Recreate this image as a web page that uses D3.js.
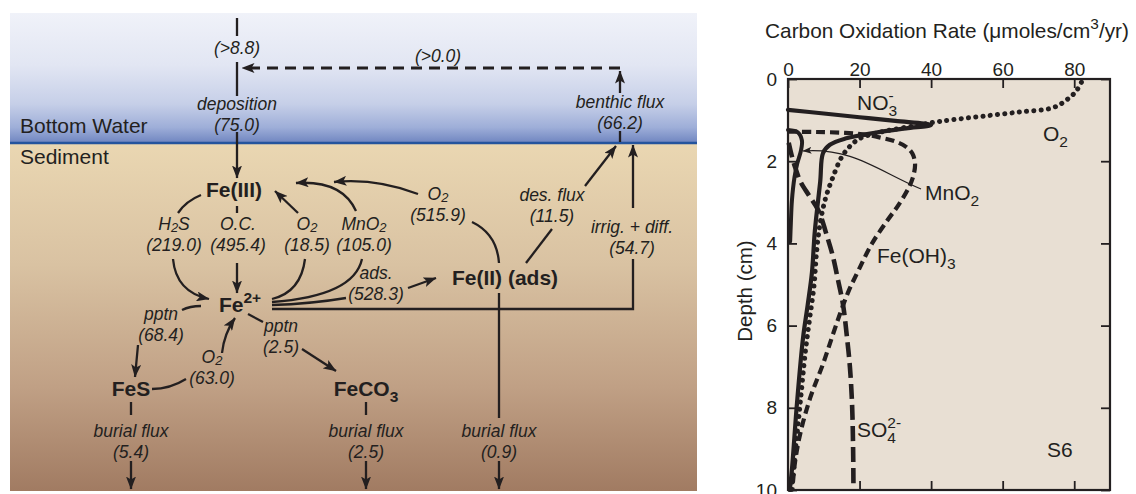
<!DOCTYPE html>
<html><head><meta charset="utf-8">
<script src="https://cdn.jsdelivr.net/npm/d3@7"></script>
<style>
body{margin:0;background:#fff}
svg{display:block}
text{font-family:"Liberation Sans",Arial,Helvetica,sans-serif;fill:#231f20}
</style>
</head><body>
<svg id="fig" width="1136" height="494"></svg>
<script>
// ---------------- iron cycle budget (fluxes) ----------------
const fluxLabels = ["deposition","benthic flux","H2S","O.C.","O2","MnO2","O2","des. flux",
                    "irrig. + diff.","ads.","pptn","pptn","O2","burial flux","burial flux","burial flux"];
const fluxValues = [75.0,66.2,219.0,495.4,18.5,105.0,515.9,11.5,54.7,528.3,68.4,2.5,63.0,5.4,2.5,0.9];
const waterBounds = [8.8,0.0];               // lower bounds in bottom water, written (>x)
const species = ["Fe(III)","Fe2+","Fe(II) (ads)","FeS","FeCO3"];
const layers = ["Bottom Water","Sediment"];

// ---------------- carbon oxidation rate profiles ([rate, depth]) ----------------
const rateNO3 = [[0,0.75],[10,0.84],[20,0.93],[30,1.02],[40,1.12],[33,1.2],[25,1.3],[16,1.45],[11.7,1.6],
                 [9.8,1.8],[9,2.5],[7.5,3.7],[6.7,4.7],[5.5,5.5],[4.2,6.3],[2.5,7.9],[1.1,9.5],[0.5,10]];
const rateO2  = [[82,0.08],[80.5,0.3],[78,0.5],[74,0.7],[65,0.8],[55,0.9],[46,0.99],[41,1.05],[36,1.13],
                 [30,1.22],[24,1.33],[20,1.45],[17.5,1.62],[15,1.9],[12.5,2.4],[10.5,2.9],[9,3.5],[8,4.2],
                 [7.3,5],[6.1,5.8],[4.9,6.6],[3.4,7.9],[1.9,9.2],[1.0,10]];
const rateMnO2 = [[0,1.24],[2.8,1.3],[3.9,1.5],[3.6,1.75],[2.6,2.05],[1.8,2.4],[1.1,2.95],[0.8,3.5],[0.6,3.95]];
const rateFeOH3 = [[0,1.28],[8,1.29],[16,1.31],[22,1.36],[26,1.43],[30,1.52],[33,1.65],[34.8,1.82],[35.5,2.05],
                   [35.2,2.3],[34,2.6],[31,3.05],[27.7,3.45],[23.5,4.0],[20,4.6],[17,5.15],[15,5.6],[13,6.1],
                   [9.8,6.93],[6.2,7.76],[3.5,8.6],[2,9.3],[1.2,10]];
const rateSO4 = [[0.2,1.55],[1,1.85],[2,2.15],[3.5,2.5],[6,2.85],[8.5,3.2],[11,3.85],[12.5,4.3],[14,4.9],
                 [15.4,5.5],[16.5,6.3],[17.3,7.0],[17.9,7.9],[18.2,9.0],[18.3,10]];
const rateTicks = [0,20,40,60,80];
const depthTicks = [0,2,4,6,8,10];
const stationName = "S6";

// ---------------- helpers ----------------
const svg = d3.select("#fig");
const defs = svg.append("defs");
const ink = "#231f20";

// chemical formula -> text runs (digits after an element become subscripts, "n+" a superscript)
function chem(s){
  const parts = [];
  const re = /(\d+[+-])|(\d+)|([^\d]+)/g;
  let m;
  while((m = re.exec(s))){
    if(m[1]) parts.push([m[1],"sup"]);
    else if(m[2]) parts.push([m[2],"sub"]);
    else parts.push([m[3],null]);
  }
  return parts;
}
function rich(g, x, y, parts, size, o = {}){
  const t = g.append("text").attr("x",x).attr("y",y).attr("font-size",size)
    .attr("text-anchor",o.anchor || "middle");
  if(o.weight) t.attr("font-weight",o.weight);
  if(o.italic) t.attr("font-style","italic");
  const subShift = o.sub != null ? o.sub : 0.22;
  let off = 0;
  parts.forEach(([s,k]) => {
    const target = k === "sub" ? subShift*size : k === "sup" ? -0.42*size : 0;
    const ts = t.append("tspan").text(s).attr("dy",target - off);
    if(k) ts.attr("font-size",size*0.74);
    off = target;
  });
  return t;
}

// arrowheads
defs.append("marker").attr("id","ah").attr("viewBox","0 0 13 10").attr("refX",12.5).attr("refY",5)
  .attr("markerWidth",13).attr("markerHeight",10).attr("markerUnits","userSpaceOnUse").attr("orient","auto")
  .append("path").attr("d","M0,0 L13,5 L0,10 L3,5 Z").attr("fill",ink);
defs.append("marker").attr("id","ahs").attr("viewBox","0 0 9 7").attr("refX",8.5).attr("refY",3.5)
  .attr("markerWidth",9).attr("markerHeight",7).attr("markerUnits","userSpaceOnUse").attr("orient","auto")
  .append("path").attr("d","M0,0 L9,3.5 L0,7 L2,3.5 Z").attr("fill",ink);

// ================= LEFT: iron cycle =================
const panel = {x0:10, x1:697, top:13, iface:143, bottom:491};
const gWater = defs.append("linearGradient").attr("id","water").attr("x1",0).attr("y1",0).attr("x2",0).attr("y2",1);
[[0,"#f0f2f9"],[0.4,"#e2e6f3"],[0.7,"#c6cfe8"],[0.88,"#9eaed8"],[1,"#6f85c0"]]
  .forEach(([o,c]) => gWater.append("stop").attr("offset",o).attr("stop-color",c));
const gSed = defs.append("linearGradient").attr("id","sed").attr("x1",0).attr("y1",0).attr("x2",0).attr("y2",1);
[[0,"#ead7b2"],[0.35,"#d9c2a2"],[0.7,"#c0a085"],[1,"#a17b62"]]
  .forEach(([o,c]) => gSed.append("stop").attr("offset",o).attr("stop-color",c));

const left = svg.append("g");
left.append("rect").attr("x",panel.x0).attr("y",panel.top).attr("width",panel.x1-panel.x0)
  .attr("height",panel.iface-panel.top).attr("fill","url(#water)");
left.append("rect").attr("x",panel.x0).attr("y",panel.iface).attr("width",panel.x1-panel.x0)
  .attr("height",panel.bottom-panel.iface).attr("fill","url(#sed)");
left.append("line").attr("x1",panel.x0).attr("x2",panel.x1).attr("y1",panel.iface).attr("y2",panel.iface)
  .attr("stroke","#24549d").attr("stroke-width",2.5);

// layer names
const layerPos = [[20,133],[20,164]];
layers.forEach((s,i) => left.append("text").attr("x",layerPos[i][0]).attr("y",layerPos[i][1])
  .attr("font-size",21).text(s));

// connectors: straight polylines or quadratic curves [start, control, end]
const links = [
  {p:[[237,18],[237,36]]},
  {p:[[237,62],[237,96]]},
  {p:[[620,93],[620,71]], arrow:true},
  {p:[[620,68],[242,68]], arrow:true, dash:true},
  {p:[[620,131],[620,142]]},
  {p:[[237,132],[237,178]], arrow:true},
  {q:[[201,195],[186,201],[178,213]]},
  {p:[[237,206],[237,213]]},
  {q:[[173,259],[176,292],[209,299]], arrow:true},
  {p:[[237,263],[237,293]], arrow:true},
  {p:[[298,213],[275,191]], arrow:true},
  {q:[[356,211],[342,180],[296,183]], arrow:true},
  {q:[[418,194],[376,178],[334,182]], arrow:true},
  {q:[[305,259],[301,292],[272,299]]},
  {q:[[362,259],[354,296],[272,302]]},
  {q:[[272,305],[310,304],[346,298]]},
  {p:[[408,288],[436,278]], arrow:true},
  {p:[[272,309],[633,309],[633,259]]},
  {p:[[633,208],[633,145]], arrow:true},
  {p:[[526,263],[552,229]]},
  {p:[[585,186],[616,146]], arrow:true},
  {q:[[499,263],[497,234],[472,222]]},
  {p:[[499,293],[499,418]]},
  {q:[[201,306],[190,306],[182,310]]},
  {p:[[138,345],[135,377]], arrow:true},
  {q:[[152,389],[170,389],[186,379]]},
  {q:[[222,353],[224,334],[235,318]], arrow:true},
  {p:[[248,314],[263,322]]},
  {p:[[302,349],[336,371]], arrow:true},
  {p:[[131,402],[131,415]]},
  {p:[[131,461],[131,489]], arrow:true},
  {p:[[366,402],[366,415]]},
  {p:[[366,461],[366,489]], arrow:true},
  {p:[[499,461],[499,489]], arrow:true}
];
links.forEach(l => {
  const path = d3.path();
  if(l.q){
    path.moveTo(...l.q[0]); path.quadraticCurveTo(...l.q[1], ...l.q[2]);
  } else {
    path.moveTo(...l.p[0]); l.p.slice(1).forEach(pt => path.lineTo(...pt));
  }
  const e = left.append("path").attr("d",path.toString()).attr("fill","none")
    .attr("stroke",ink).attr("stroke-width", l.dash ? 2.8 : 2.3);
  if(l.dash) e.attr("stroke-dasharray","11 7");
  if(l.arrow) e.attr("marker-end","url(#ah)");
});

// bounds in the bottom water
const boundPos = [[237,54],[438,62]];
waterBounds.forEach((v,i) => left.append("text").attr("x",boundPos[i][0]).attr("y",boundPos[i][1])
  .attr("font-size",17.5).attr("font-style","italic").attr("text-anchor","middle")
  .text(`(>${v.toFixed(1)})`));

// process names with flux values beneath
const fluxPos = [[237,110],[620,108],[174,230],[238,230],[307,230],[364,230],[438,200],[552,201],
                 [632,233],[376,279],[161,320],[281,332],[212,363],[131,437],[366,437],[499,437]];
fluxLabels.forEach((s,i) => {
  const [x,y] = fluxPos[i];
  rich(left, x, y, chem(s), 17.5, {italic:true, sub:0.14});
  left.append("text").attr("x",x).attr("y",y + 20.5).attr("font-size",17.5)
    .attr("font-style","italic").attr("text-anchor","middle").text(`(${fluxValues[i].toFixed(1)})`);
});

// iron pools
const speciesPos = [[234,197],[240,312],[505,285],[131,396],[366,396]];
species.forEach((s,i) => rich(left, speciesPos[i][0], speciesPos[i][1], chem(s), 21, {weight:"bold", sub:0.28}));

// ================= RIGHT: carbon oxidation rate vs depth =================
const x = d3.scaleLinear().domain([0,90]).range([788,1110]);
const y = d3.scaleLinear().domain([0,10]).range([79,490]);
const right = svg.append("g");

right.append("rect").attr("x",x(0)).attr("y",y(0)).attr("width",x(90)-x(0)).attr("height",y(10)-y(0))
  .attr("fill","#e8dfd3");

const line = d3.line().x(d => x(d[0])).y(d => y(d[1])).curve(d3.curveCatmullRom.alpha(0.5));
const profiles = [
  {data:rateSO4,  dash:"15 6",  w:4.6, cap:"butt"},
  {data:rateFeOH3, dash:"9 5",  w:4.2, cap:"butt"},
  {data:rateO2,   dash:"0.1 7.2", w:5, cap:"round"},
  {data:rateMnO2, dash:null,    w:4,   cap:"round"},
  {data:rateNO3,  dash:null,    w:4.2, cap:"round"}
];
const gc = right.append("g");
profiles.forEach(p => {
  const e = gc.append("path").attr("d",line(p.data)).attr("fill","none").attr("stroke",ink)
    .attr("stroke-width",p.w).attr("stroke-linecap",p.cap).attr("stroke-linejoin","round");
  if(p.dash) e.attr("stroke-dasharray",p.dash);
});

// frame and inward ticks
const tick = 9;
const axT = right.append("g").attr("transform",`translate(0,${y(0)})`)
  .call(d3.axisTop(x).tickValues(rateTicks).tickSize(-tick).tickPadding(3));
const axB = right.append("g").attr("transform",`translate(0,${y(10)})`)
  .call(d3.axisBottom(x).tickValues(rateTicks).tickSize(-tick).tickFormat(""));
const axL = right.append("g").attr("transform",`translate(${x(0)},0)`)
  .call(d3.axisLeft(y).tickValues(depthTicks).tickSize(-tick).tickPadding(11));
const axR = right.append("g").attr("transform",`translate(${x(90)},0)`)
  .call(d3.axisRight(y).tickValues(depthTicks).tickSize(-tick).tickFormat(""));
[axT,axB,axL,axR].forEach(a => {
  a.select(".domain").remove();
  a.selectAll(".tick line").attr("stroke",ink).attr("stroke-width",1.8);
  a.selectAll(".tick text").attr("font-size",19).attr("font-family","Liberation Sans, Arial, sans-serif")
    .attr("fill",ink);
});
right.append("rect").attr("x",x(0)).attr("y",y(0)).attr("width",x(90)-x(0)).attr("height",y(10)-y(0))
  .attr("fill","none").attr("stroke",ink).attr("stroke-width",2.2);

// axis titles
rich(right, 947, 38, [["Carbon Oxidation Rate (\u03bcmoles/cm",null],["3","sup"],["/yr)",null]], 20.8);
right.append("text").attr("transform","translate(752,291) rotate(-90)").attr("text-anchor","middle")
  .attr("font-size",20.5).text("Depth (cm)");

// curve labels
const labelSize = 21;
function stacked(xp, yp, base, sub, sup){
  const t = rich(right, xp, yp, [[base,null],[sub,"sub"]], labelSize, {anchor:"start", sub:0.3});
  const subSpan = t.selectAll("tspan").filter((d,i) => i === 1);
  const w = subSpan.node().getComputedTextLength();
  t.append("tspan").text(sup).attr("font-size",labelSize*0.74)
    .attr("dx",-w).attr("dy",-0.3*labelSize - 0.45*labelSize);
}
stacked(857, 110, "NO", "3", "-");
rich(right, 1043, 141, chem("O2"), labelSize, {anchor:"start", sub:0.3});
rich(right, 925, 200, chem("MnO2"), labelSize, {anchor:"start", sub:0.3});
rich(right, 877, 263, chem("Fe(OH)3"), labelSize, {anchor:"start", sub:0.3});
stacked(857, 437, "SO", "4", "2-");
right.append("text").attr("x",1047).attr("y",457).attr("font-size",labelSize).text(stationName);

// leader from the MnO2 label to its profile
const lead = d3.path();
lead.moveTo(921,189); lead.bezierCurveTo(880,172,852,147,803,151);
right.append("path").attr("d",lead.toString()).attr("fill","none").attr("stroke",ink)
  .attr("stroke-width",1.2).attr("marker-end","url(#ahs)");
</script>
</body></html>
